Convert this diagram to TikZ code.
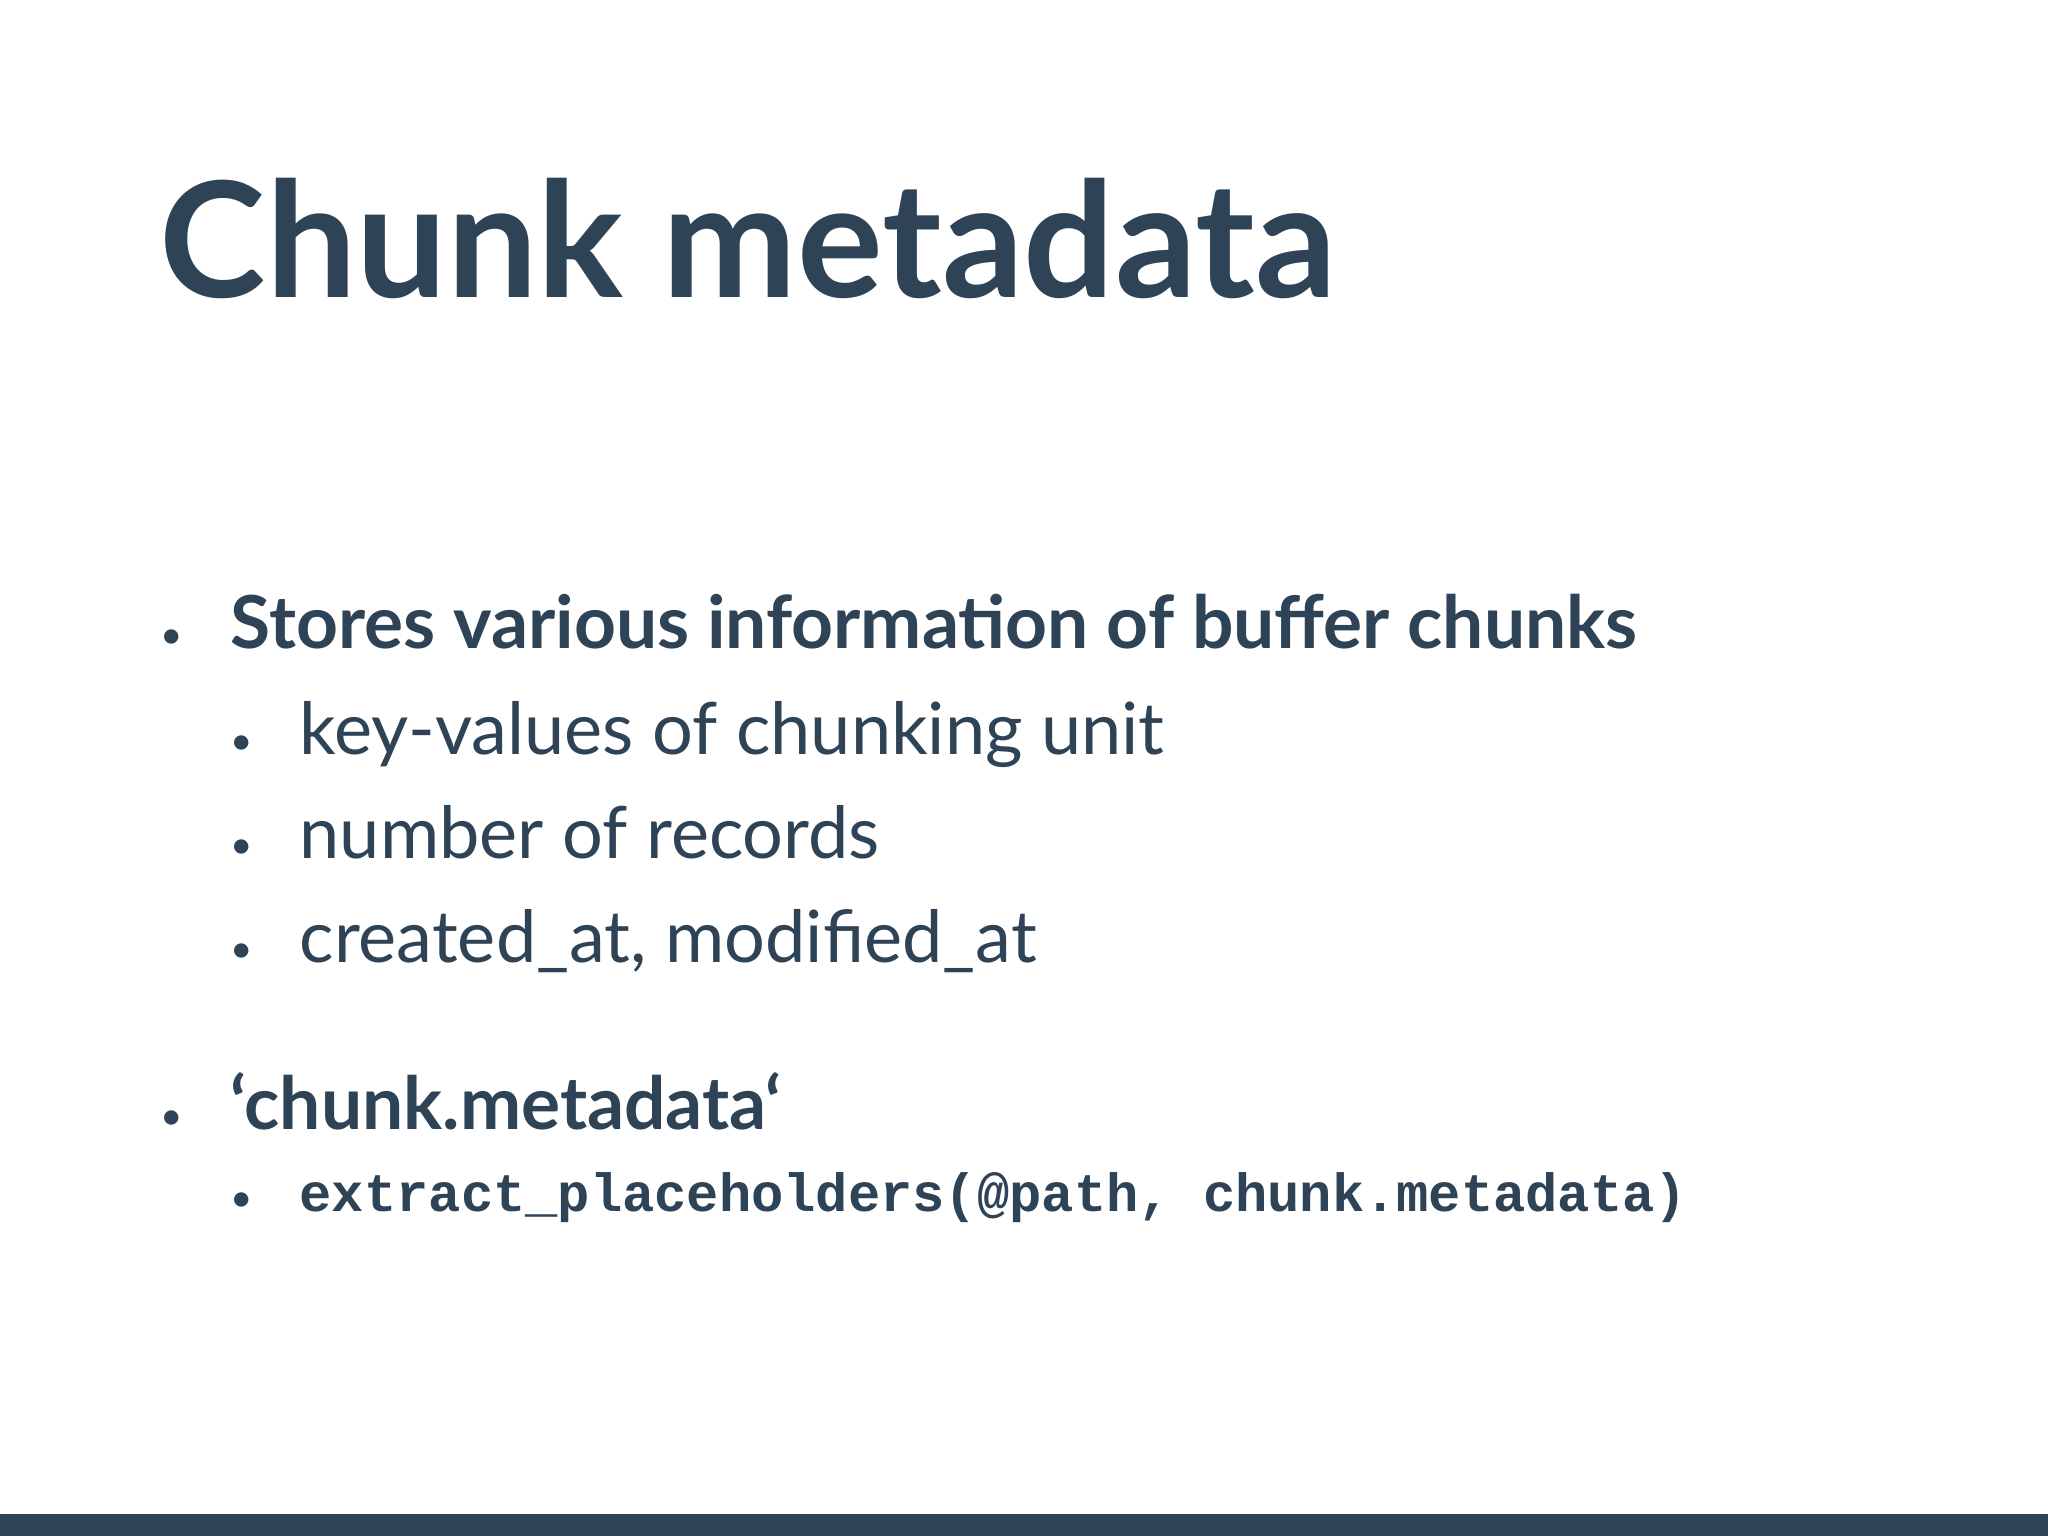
\documentclass[tikz,border=0pt]{standalone}
\usepackage{fontspec}
\setmainfont{Lato}
\setmonofont{Liberation Mono}
\definecolor{ink}{HTML}{2F4357}
\begin{document}
\begin{tikzpicture}[x=1cm,y=1cm,
  t/.style={anchor=base west,inner sep=0,text=ink},
  l1/.style={t,font=\fontsize{20.8}{25}\selectfont\bfseries},
  l2/.style={t,font=\fontsize{20.5}{25}\selectfont},
  bul/.style={t,font=\fontsize{11}{14}\selectfont}]
\useasboundingbox (0,0) rectangle (20.48,15.36);
\fill[white] (0,0) rectangle (20.48,15.36);
\fill[ink] (0,0) coordinate (bl) rectangle (20.48,0.22) coordinate (tr);
\node[t,font=\fontsize{45.7}{52}\selectfont\bfseries] (title) at (1.59,12.38) {Chunk metadata};
\node[bul] (b1) at (1.60,8.87) {•};
\node[l1] (s1) at (2.30,8.87) {Stores various information of buffer chunks};
\node[bul] (b2) at (2.30,7.81) {•};
\node[l2] (s2) at (2.99,7.81) {key-values of chunking unit};
\node[bul] (b3) at (2.30,6.77) {•};
\node[l2] (s3) at (2.99,6.77) {number of records};
\node[bul] (b4) at (2.30,5.73) {•};
\node[l2] (s4) at (2.99,5.73) {created\_at, modified\_at};
\node[bul] (b5) at (1.60,4.06) {•};
\node[l1] (s5) at (2.30,4.06) {\char96 chunk.metadata\char96};
\node[bul] (b6) at (2.30,3.24) {•};
\node[t,font=\fontsize{15.3}{18}\selectfont\ttfamily\bfseries] (s6) at (2.99,3.24) {extract\_placeholders(@path, chunk.metadata)};
\end{tikzpicture}
\end{document}
